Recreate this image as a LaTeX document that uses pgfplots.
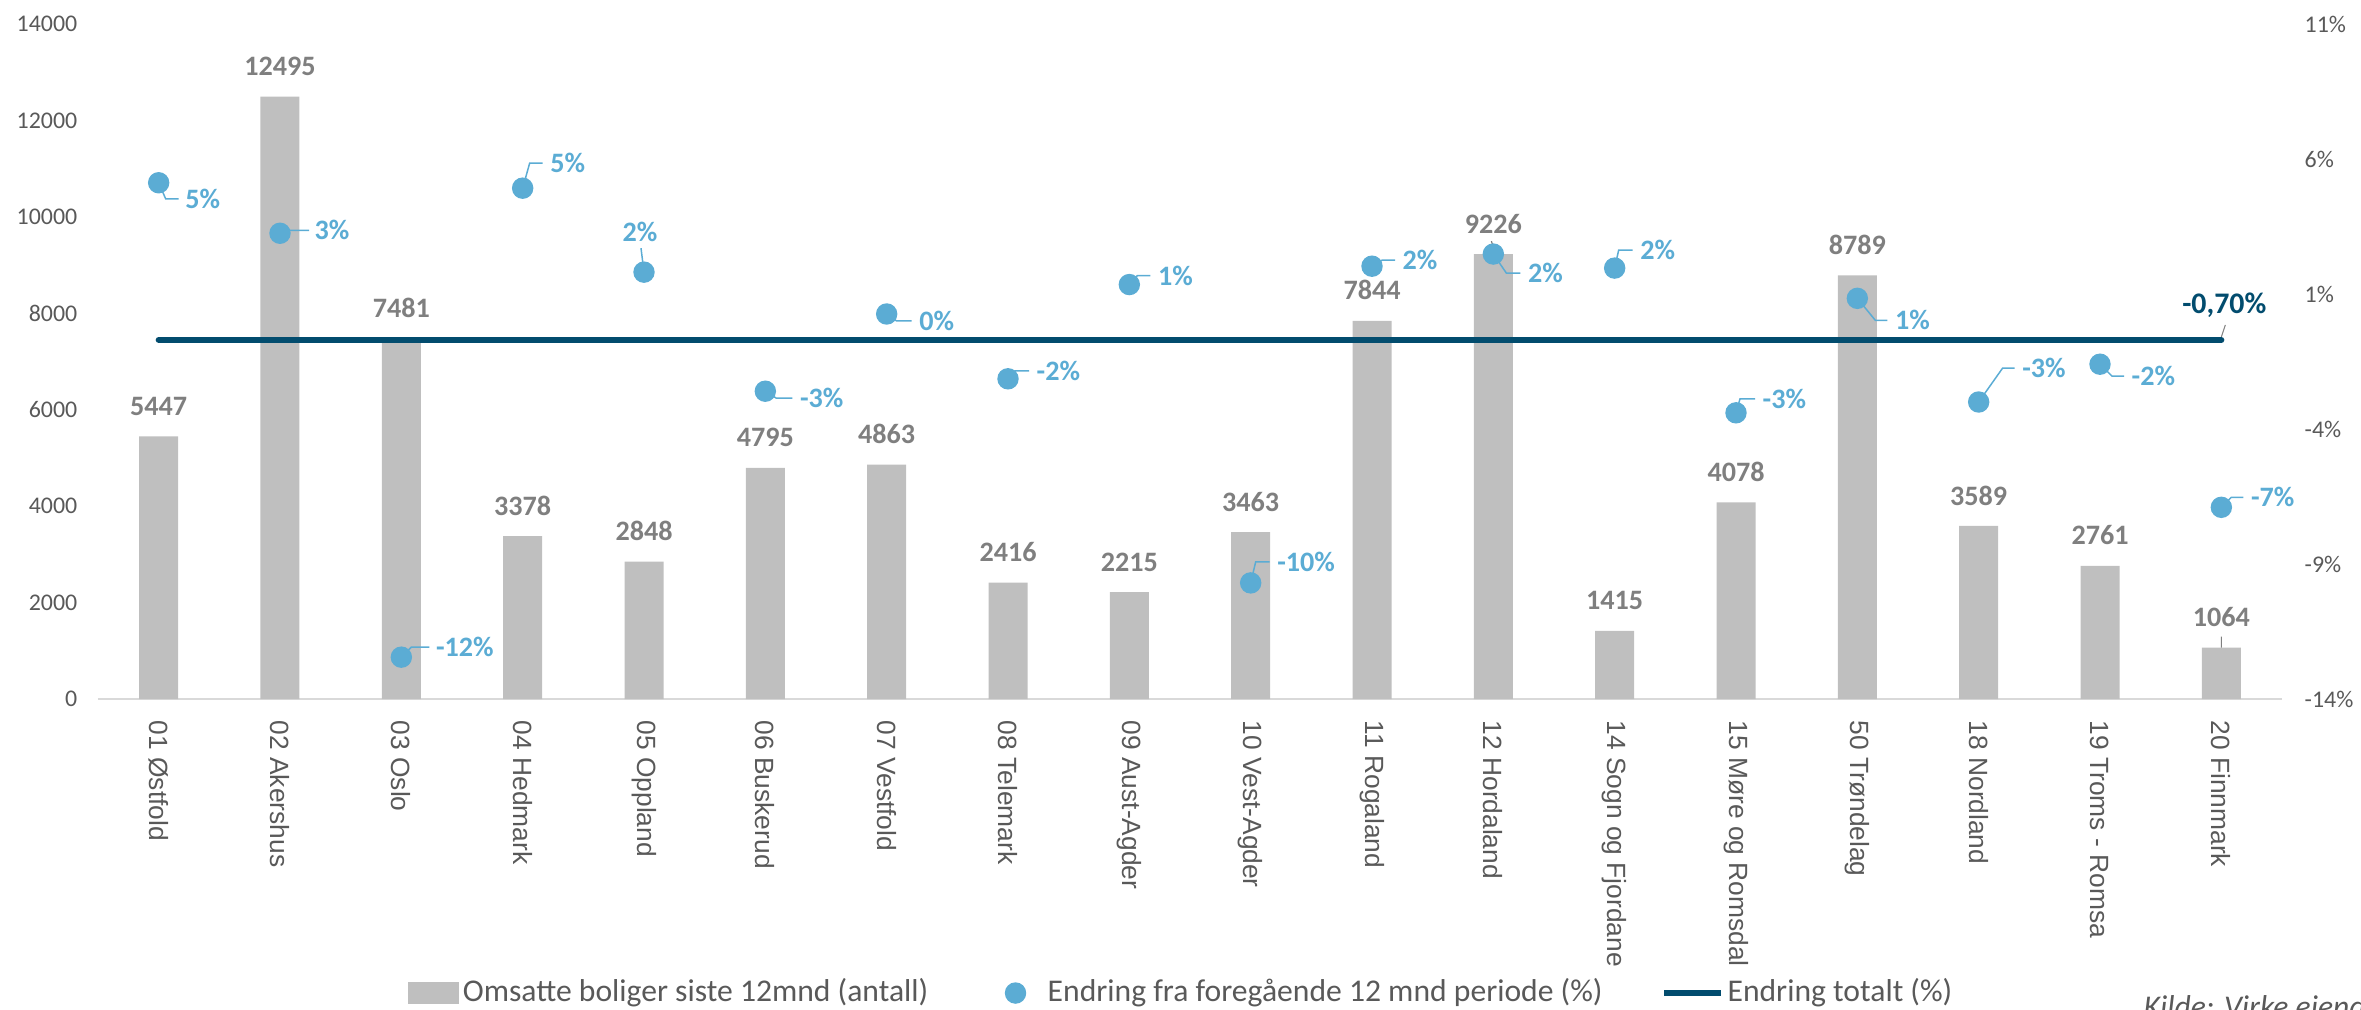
\documentclass[border=0pt]{standalone}
\usepackage{pgfplots}
\usepackage{pgfplotstable}
\pgfplotsset{compat=1.18}
\usepackage{fontspec}
\setmainfont{Carlito}
\newfontfamily\catfont{Liberation Sans}
\definecolor{barc}{HTML}{BFBFBF}
\definecolor{barlab}{HTML}{7F7F7F}
\definecolor{dotc}{HTML}{5BACD4}
\definecolor{linec}{HTML}{024C6E}
\definecolor{tickc}{HTML}{595959}
\definecolor{axc}{HTML}{D9D9D9}

\pgfplotstableread{
x y
0 5447
1 12495
2 7481
3 3378
4 2848
5 4795
6 4863
7 2416
8 2215
9 3463
10 7844
11 9226
12 1415
13 4078
14 8789
15 3589
16 2761
17 1064
}\bars

% small leader lines of two bar labels
\pgfplotstableread{
x y
17 1064
17 1292
nan nan
11.0165 9267
10.9835 9496
}\barleaders

% x, change (%), label, label west-anchor offset from the dot (px)
\pgfplotstableread{
x y lab lx ly
0 5.12 5 26 -16
1 3.25 3 34 3
2 -12.45 -12 34 10
3 4.92 5 27 25
4 1.81 2 -22 40
5 -2.60 -3 34 -7
6 0.26 0 32 -7
7 -2.14 -2 28 8
8 1.35 1 28 9
9 -9.70 -10 26 21
10 2.03 2 30 6
11 2.48 2 34 -19
12 1.96 2 25 18
13 -3.40 -3 26 14
14 0.84 1 37 -22
15 -3.00 -3 43 34
16 -1.60 -2 31 -12
17 -6.90 -7 29 10
}\pct

% leader lines of the data labels
\pgfplotstableread{
x y
0 5.12
0.0577 4.527
0.1648 4.527
nan nan
1 3.25
1.0824 3.361
1.2390 3.361
nan nan
2 -12.45
2.0824 -12.080
2.2308 -12.080
nan nan
3 4.92
3.0577 5.846
3.1648 5.846
nan nan
4 1.81
3.9753 2.699
nan nan
5 -2.60
5.0907 -2.859
5.2225 -2.859
nan nan
6 0.26
6.0824 0.001
6.2060 0.001
nan nan
7 -2.14
7.0577 -1.844
7.1731 -1.844
nan nan
8 1.35
8.0659 1.683
8.1731 1.683
nan nan
9 -9.70
9.0412 -8.922
9.1566 -8.922
nan nan
10 2.03
10.0824 2.252
10.1896 2.252
nan nan
11 2.48
11.1071 1.776
11.2225 1.776
nan nan
12 1.96
12.0330 2.627
12.1484 2.627
nan nan
13 -3.40
13.0330 -2.881
13.1566 -2.881
nan nan
14 0.84
14.1484 0.025
14.2473 0.025
nan nan
15 -3.00
15.1978 -1.741
15.2967 -1.741
nan nan
16 -1.60
16.0989 -2.044
16.1978 -2.044
nan nan
17 -6.90
17.0824 -6.530
17.1813 -6.530
}\leaders

\pgfplotsset{
  base/.style={
    width=21.84cm, height=6.75cm, scale only axis,
    at={(0.98cm,3.10cm)}, anchor=south west,
    xmin=-0.5, xmax=17.5,
    major tick length=0pt, minor tick num=0,
    tick label style={font=\fontsize{6.8}{8}\selectfont, text=tickc},
    /pgf/number format/assume math mode=true,
    clip=false,
  }
}

\begin{document}
\begin{tikzpicture}
\begin{axis}[base,
  ymin=0, ymax=14000, ytick={0,2000,...,14000},
  scaled y ticks=false,
  y tick label style={/pgf/number format/1000 sep={}, inner sep=0pt, xshift=-0.2cm},
  axis x line*=bottom, axis y line*=left,
  y axis line style={draw=none},
  x axis line style={draw=axc, line width=0.7pt, -},
  xtick={0,...,17},
  xticklabels={01 Østfold, 02 Akershus, 03 Oslo, 04 Hedmark, 05 Oppland, 06 Buskerud, 07 Vestfold, 08 Telemark, 09 Aust-Agder, 10 Vest-Agder, 11 Rogaland, 12 Hordaland, 14 Sogn og Fjordane, 15 Møre og Romsdal, 50 Trøndelag, 18 Nordland, 19 Troms - Romsa, 20 Finnmark},
  xticklabel style={font=\catfont\fontsize{7.5}{9}\selectfont, text=tickc, inner sep=0pt, anchor=west, yshift=-0.21cm, rotate=-90},
]
\addplot[ybar, bar width=0.39cm, fill=barc, draw=none,
  nodes near coords,
  every node near coord/.append style={anchor=south, yshift=0.20cm, inner sep=0pt,
    font=\bfseries\fontsize{8}{10}\selectfont, text=barlab, /pgf/number format/1000 sep={}}]
  table[x=x, y=y]{\bars};
\addplot[forget plot, no markers, barlab, line width=0.012cm, unbounded coords=jump]
  table[x=x, y=y]{\barleaders};
\end{axis}

\begin{axis}[base,
  ymin=-14, ymax=11, ytick={-14,-9,-4,1,6,11},
  axis y line*=right, axis x line=none,
  y axis line style={draw=none},
  yticklabel={\pgfmathprintnumber{\tick}\%},
  y tick label style={inner sep=0pt, xshift=0.22cm, anchor=west},
  legend columns=3,
  legend cell align=left,
  legend style={at={(0.1419,-0.4356)}, anchor=west, draw=none, fill=none,
    inner sep=0pt, outer sep=0pt,
    font=\fontsize{9}{11}\selectfont, text=tickc,
    nodes={inner sep=1pt},
    /tikz/every even column/.append style={column sep=0.55cm}},
]
\addlegendimage{legend image code/.code={\fill[barc] (0cm,-0.105cm) rectangle (0.5cm,0.105cm);}}
\addlegendentry{Omsatte boliger siste 12mnd (antall)}
\addlegendimage{legend image code/.code={\path (-0.18cm,0) (0.38cm,0); \fill[dotc] (0.1cm,0) circle (0.1cm);}}
\addlegendentry{Endring fra foregående 12 mnd periode (\%)}
\addlegendimage{legend image code/.code={\draw[linec, line width=0.06cm] (0cm,0) -- (0.57cm,0);}}
\addlegendentry{Endring totalt (\%)}

\addplot[forget plot, linec, line width=0.06cm, line cap=round]
  coordinates {(0,-0.7) (17,-0.7)}
  node[pos=1, inner sep=0pt] (lend) {}
  node[pos=1, anchor=center, xshift=0.03cm, yshift=0.35cm, inner sep=0pt,
    font=\bfseries\fontsize{8.5}{10}\selectfont, text=linec] {-0,70\%};

\addplot[forget plot, no markers, dotc, line width=0.015cm, unbounded coords=jump]
  table[x=x, y=y]{\leaders};

\addplot[forget plot, only marks, mark=*, mark size=0.1cm, dotc,
  mark options={draw=none, fill=dotc}]
  table[x=x, y=y]{\pct};

\addplot[forget plot, draw=none, mark=none,
  point meta=explicit symbolic,
  nodes near coords={\pgfplotspointmeta\%},
  every node near coord/.append style={anchor=west, inner sep=0pt,
    font=\bfseries\fontsize{8}{10}\selectfont, text=dotc}]
  table[x expr=\thisrow{x}+\thisrow{lx}*0.0082418, y expr=\thisrow{y}+\thisrow{ly}*0.037037, meta=lab]{\pct};
\end{axis}

\draw[gray, line width=0.01cm] ([yshift=0.03cm]lend.center) -- ++(0.04cm,0.12cm);

\node[anchor=base west, inner sep=0pt, font=\itshape\fontsize{9}{11}\selectfont, text=tickc]
  at (21.43cm,-0.08cm) {Kilde: Virke eiendom, SSB};

\pgfresetboundingbox
\useasboundingbox (0,0) rectangle (23.61cm,10.09cm);
\end{tikzpicture}
\end{document}
